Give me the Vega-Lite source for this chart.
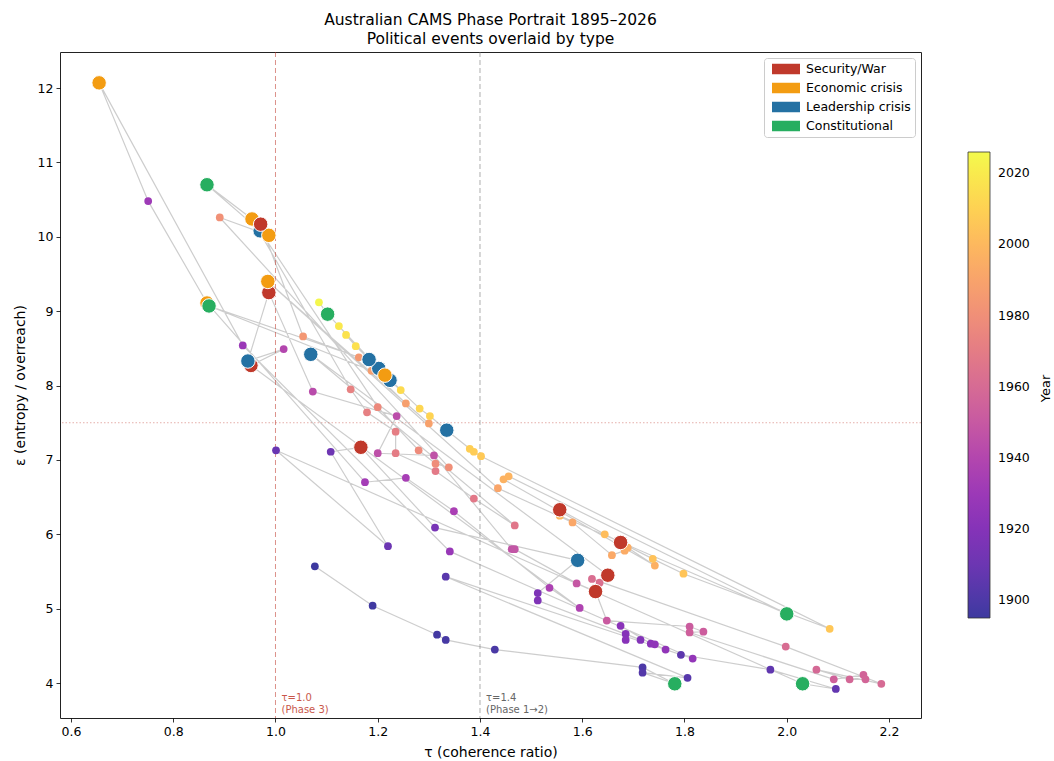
{
  "$schema": "https://vega.github.io/schema/vega-lite/v6.json",
  "autosize": {"type": "none"},
  "padding": {"left": 60, "top": 52, "right": 133, "bottom": 43},
  "width": 861,
  "height": 666,
  "title": {
    "text": ["Australian CAMS Phase Portrait 1895–2026", "Political events overlaid by type"],
    "font": "DejaVu Sans",
    "fontSize": 15.5,
    "fontWeight": "normal",
    "color": "#000000",
    "anchor": "middle",
    "lineHeight": 19,
    "offset": 4
  },
  "config": {
    "font": "DejaVu Sans",
    "view": {"stroke": "#222222", "strokeWidth": 1},
    "axis": {
      "grid": false,
      "domain": false,
      "tickColor": "#000000",
      "tickSize": 4,
      "tickWidth": 0.8,
      "labelFont": "DejaVu Sans",
      "labelFontSize": 12.5,
      "labelColor": "#000000",
      "labelPadding": 3,
      "titleFont": "DejaVu Sans",
      "titleFontSize": 14,
      "titleFontWeight": "normal",
      "titleColor": "#000000"
    }
  },
  "data": {
    "values": [
      {"year": 1895, "tau": 1.077, "eps": 5.57},
      {"year": 1896, "tau": 1.190, "eps": 5.04},
      {"year": 1897, "tau": 1.316, "eps": 4.65},
      {"year": 1898, "tau": 1.333, "eps": 4.58},
      {"year": 1899, "tau": 1.429, "eps": 4.45},
      {"year": 1900, "tau": 1.718, "eps": 4.21},
      {"year": 1901, "tau": 1.781, "eps": 3.99, "type": "Constitutional"},
      {"year": 1902, "tau": 1.718, "eps": 4.14},
      {"year": 1903, "tau": 1.806, "eps": 4.07},
      {"year": 1904, "tau": 1.333, "eps": 5.43},
      {"year": 1905, "tau": 1.793, "eps": 4.38},
      {"year": 1906, "tau": 1.968, "eps": 4.18},
      {"year": 1907, "tau": 2.096, "eps": 3.92},
      {"year": 1908, "tau": 2.031, "eps": 3.99, "type": "Constitutional"},
      {"year": 1909, "tau": 1.001, "eps": 7.13},
      {"year": 1910, "tau": 1.220, "eps": 5.84},
      {"year": 1911, "tau": 1.108, "eps": 7.11},
      {"year": 1914, "tau": 1.167, "eps": 7.17, "type": "Security/War"},
      {"year": 1915, "tau": 1.312, "eps": 6.09},
      {"year": 1916, "tau": 1.591, "eps": 5.65, "type": "Leadership crisis"},
      {"year": 1917, "tau": 1.513, "eps": 5.21},
      {"year": 1918, "tau": 1.513, "eps": 5.11},
      {"year": 1919, "tau": 1.714, "eps": 4.58},
      {"year": 1920, "tau": 1.685, "eps": 4.66},
      {"year": 1921, "tau": 1.685, "eps": 4.58},
      {"year": 1922, "tau": 1.675, "eps": 4.77},
      {"year": 1923, "tau": 1.734, "eps": 4.53},
      {"year": 1924, "tau": 1.742, "eps": 4.52},
      {"year": 1925, "tau": 1.763, "eps": 4.45},
      {"year": 1926, "tau": 1.816, "eps": 4.33},
      {"year": 1928, "tau": 1.341, "eps": 5.77},
      {"year": 1929, "tau": 0.936, "eps": 8.54},
      {"year": 1930, "tau": 0.655, "eps": 12.07, "type": "Economic crisis"},
      {"year": 1931, "tau": 0.751, "eps": 10.48},
      {"year": 1932, "tau": 0.866, "eps": 9.11, "type": "Economic crisis"},
      {"year": 1934, "tau": 1.175, "eps": 6.70},
      {"year": 1935, "tau": 1.255, "eps": 6.76},
      {"year": 1936, "tau": 1.349, "eps": 6.31},
      {"year": 1937, "tau": 1.536, "eps": 5.28},
      {"year": 1938, "tau": 1.595, "eps": 5.01},
      {"year": 1939, "tau": 0.952, "eps": 8.27, "type": "Security/War"},
      {"year": 1940, "tau": 1.016, "eps": 8.49},
      {"year": 1941, "tau": 0.946, "eps": 8.33, "type": "Leadership crisis"},
      {"year": 1942, "tau": 0.987, "eps": 9.25, "type": "Security/War"},
      {"year": 1943, "tau": 1.073, "eps": 7.92},
      {"year": 1944, "tau": 1.237, "eps": 7.59},
      {"year": 1945, "tau": 1.200, "eps": 7.09},
      {"year": 1946, "tau": 1.310, "eps": 7.06},
      {"year": 1947, "tau": 1.462, "eps": 5.80},
      {"year": 1948, "tau": 1.468, "eps": 5.80},
      {"year": 1949, "tau": 1.589, "eps": 5.34},
      {"year": 1950, "tau": 1.626, "eps": 5.23, "type": "Security/War"},
      {"year": 1951, "tau": 1.648, "eps": 4.84},
      {"year": 1952, "tau": 1.810, "eps": 4.76},
      {"year": 1953, "tau": 1.837, "eps": 4.69},
      {"year": 1954, "tau": 1.810, "eps": 4.68},
      {"year": 1955, "tau": 2.092, "eps": 4.05},
      {"year": 1956, "tau": 2.150, "eps": 4.11},
      {"year": 1957, "tau": 2.154, "eps": 4.05},
      {"year": 1958, "tau": 2.123, "eps": 4.05},
      {"year": 1959, "tau": 2.058, "eps": 4.18},
      {"year": 1960, "tau": 2.185, "eps": 3.99},
      {"year": 1961, "tau": 1.998, "eps": 4.49},
      {"year": 1962, "tau": 1.619, "eps": 5.40},
      {"year": 1963, "tau": 1.634, "eps": 5.35},
      {"year": 1965, "tau": 1.650, "eps": 5.45, "type": "Security/War"},
      {"year": 1966, "tau": 1.069, "eps": 8.42, "type": "Leadership crisis"},
      {"year": 1967, "tau": 1.468, "eps": 6.12},
      {"year": 1968, "tau": 1.388, "eps": 6.48},
      {"year": 1969, "tau": 1.313, "eps": 6.85},
      {"year": 1970, "tau": 1.235, "eps": 7.09},
      {"year": 1971, "tau": 1.235, "eps": 7.38},
      {"year": 1972, "tau": 1.179, "eps": 7.64},
      {"year": 1973, "tau": 1.147, "eps": 7.95},
      {"year": 1974, "tau": 0.954, "eps": 10.24, "type": "Economic crisis"},
      {"year": 1975, "tau": 0.866, "eps": 10.70, "type": "Constitutional"},
      {"year": 1976, "tau": 0.970, "eps": 10.08, "type": "Leadership crisis"},
      {"year": 1977, "tau": 1.200, "eps": 7.71},
      {"year": 1978, "tau": 1.280, "eps": 7.13},
      {"year": 1979, "tau": 1.313, "eps": 6.95},
      {"year": 1980, "tau": 1.339, "eps": 6.90},
      {"year": 1981, "tau": 0.891, "eps": 10.26},
      {"year": 1982, "tau": 0.987, "eps": 10.02, "type": "Economic crisis"},
      {"year": 1983, "tau": 0.971, "eps": 10.17, "type": "Security/War"},
      {"year": 1984, "tau": 1.054, "eps": 8.66},
      {"year": 1985, "tau": 1.163, "eps": 8.38},
      {"year": 1986, "tau": 0.870, "eps": 9.07, "type": "Constitutional"},
      {"year": 1987, "tau": 1.188, "eps": 8.20},
      {"year": 1988, "tau": 1.255, "eps": 7.76},
      {"year": 1989, "tau": 1.300, "eps": 7.49},
      {"year": 1990, "tau": 0.985, "eps": 9.40, "type": "Economic crisis"},
      {"year": 1991, "tau": 1.435, "eps": 6.62},
      {"year": 1992, "tau": 1.581, "eps": 6.16},
      {"year": 1993, "tau": 1.658, "eps": 5.72},
      {"year": 1994, "tau": 1.683, "eps": 5.78},
      {"year": 1995, "tau": 1.689, "eps": 5.82},
      {"year": 1996, "tau": 1.742, "eps": 5.58},
      {"year": 1997, "tau": 1.446, "eps": 6.74},
      {"year": 1998, "tau": 1.456, "eps": 6.78},
      {"year": 1999, "tau": 2.000, "eps": 4.93, "type": "Constitutional"},
      {"year": 2000, "tau": 1.556, "eps": 6.25},
      {"year": 2001, "tau": 1.556, "eps": 6.33, "type": "Security/War"},
      {"year": 2002, "tau": 1.644, "eps": 6.00},
      {"year": 2003, "tau": 1.675, "eps": 5.89, "type": "Security/War"},
      {"year": 2004, "tau": 1.738, "eps": 5.67},
      {"year": 2005, "tau": 1.798, "eps": 5.47},
      {"year": 2006, "tau": 2.084, "eps": 4.73},
      {"year": 2007, "tau": 1.402, "eps": 7.05},
      {"year": 2008, "tau": 1.388, "eps": 7.11},
      {"year": 2009, "tau": 1.380, "eps": 7.15},
      {"year": 2010, "tau": 1.335, "eps": 7.40, "type": "Leadership crisis"},
      {"year": 2011, "tau": 1.302, "eps": 7.59},
      {"year": 2012, "tau": 1.282, "eps": 7.69},
      {"year": 2013, "tau": 1.224, "eps": 8.07, "type": "Leadership crisis"},
      {"year": 2014, "tau": 1.245, "eps": 7.94},
      {"year": 2015, "tau": 1.202, "eps": 8.23, "type": "Leadership crisis"},
      {"year": 2016, "tau": 1.157, "eps": 8.53},
      {"year": 2017, "tau": 1.138, "eps": 8.68},
      {"year": 2018, "tau": 1.183, "eps": 8.35, "type": "Leadership crisis"},
      {"year": 2019, "tau": 1.124, "eps": 8.80},
      {"year": 2020, "tau": 1.214, "eps": 8.14, "type": "Economic crisis"},
      {"year": 2023, "tau": 1.102, "eps": 8.96, "type": "Constitutional"},
      {"year": 2025, "tau": 1.085, "eps": 9.12}
    ]
  },
  "layer": [
    {
      "mark": {"type": "line", "color": "#c4c4c4", "strokeWidth": 1.2, "opacity": 0.85},
      "encoding": {
        "x": {"field": "tau", "type": "quantitative", "scale": {"domain": [0.5785, 2.2626], "nice": false, "zero": false},
              "axis": {"title": "τ (coherence ratio)", "values": [0.6, 0.8, 1.0, 1.2, 1.4, 1.6, 1.8, 2.0, 2.2], "format": ".1f", "titlePadding": 8}},
        "y": {"field": "eps", "type": "quantitative", "scale": {"domain": [3.53, 12.485], "nice": false, "zero": false},
              "axis": {"title": "ε (entropy / overreach)", "values": [4, 5, 6, 7, 8, 9, 10, 11, 12], "format": "d", "titlePadding": 10}},
        "order": {"field": "year", "type": "quantitative"}
      }
    },
    {
      "data": {"values": [{}]},
      "mark": {"type": "rule", "color": "#c0392b", "opacity": 0.55, "strokeDash": [5, 3], "strokeWidth": 1},
      "encoding": {"x": {"datum": 1.0}}
    },
    {
      "data": {"values": [{}]},
      "mark": {"type": "rule", "color": "#777777", "opacity": 0.6, "strokeDash": [5, 3], "strokeWidth": 1},
      "encoding": {"x": {"datum": 1.4}}
    },
    {
      "data": {"values": [{}]},
      "mark": {"type": "rule", "color": "#c0392b", "opacity": 0.4, "strokeDash": [1.5, 2], "strokeWidth": 1},
      "encoding": {"y": {"datum": 7.5}}
    },
    {
      "data": {"values": [{}]},
      "mark": {"type": "text", "align": "left", "baseline": "bottom", "dx": 6, "dy": -15, "fontSize": 10, "lineHeight": 12, "color": "#c0392b", "opacity": 0.85, "text": ["τ=1.0", "(Phase 3)"]},
      "encoding": {"x": {"datum": 1.0}, "y": {"datum": 3.53}}
    },
    {
      "data": {"values": [{}]},
      "mark": {"type": "text", "align": "left", "baseline": "bottom", "dx": 6, "dy": -15, "fontSize": 10, "lineHeight": 12, "color": "#666666", "text": ["τ=1.4", "(Phase 1→2)"]},
      "encoding": {"x": {"datum": 1.4}, "y": {"datum": 3.53}}
    },
    {
      "data": {"values": [{}]},
      "mark": {"type": "text", "align": "center", "baseline": "middle", "angle": 270, "fontSize": 13, "color": "#000000", "text": "Year"},
      "encoding": {"x": {"datum": 2.508}, "y": {"datum": 7.96}}
    },
    {
      "mark": {"type": "circle", "size": 60, "opacity": 1},
      "encoding": {
        "x": {"field": "tau", "type": "quantitative"},
        "y": {"field": "eps", "type": "quantitative"},
        "color": {
          "field": "year", "type": "quantitative",
          "scale": {
            "domain": [1895, 1908.1, 1921.2, 1934.3, 1947.4, 1960.5, 1973.6, 1986.7, 1999.8, 2012.9, 2026],
            "range": ["#3d399f", "#6736b1", "#8833b9", "#a53db6", "#c155a6", "#d66c93", "#e78381", "#f59d6f", "#fdb85e", "#fdd851", "#f3fa4d"]
          },
          "legend": {
            "title": null,
            "orient": "none",
            "legendX": 908,
            "legendY": 100,
            "direction": "vertical",
            "gradientLength": 466,
            "gradientThickness": 22,
            "gradientStrokeColor": "#333333",
            "gradientStrokeWidth": 0.8,
            "values": [1900, 1920, 1940, 1960, 1980, 2000, 2020],
            "format": "d",
            "labelFontSize": 12.5,
            "labelColor": "#000000",
            "labelOffset": 8
          }
        }
      }
    },
    {
      "transform": [{"filter": "isValid(datum.type)"}],
      "mark": {"type": "point", "shape": "circle", "filled": true, "size": 210, "opacity": 1, "stroke": "#ffffff", "strokeWidth": 1},
      "encoding": {
        "x": {"field": "tau", "type": "quantitative"},
        "y": {"field": "eps", "type": "quantitative"},
        "fill": {
          "field": "type", "type": "nominal",
          "scale": {"domain": ["Security/War", "Economic crisis", "Leadership crisis", "Constitutional"],
                    "range": ["#c0392b", "#f39c12", "#2471a3", "#27ae60"]},
          "legend": {
            "title": null,
            "orient": "top-right",
            "offset": 6,
            "symbolType": "M-2,-0.75L2,-0.75L2,0.75L-2,0.75Z",
            "symbolSize": 196,
            "symbolStrokeWidth": 0,
            "symbolOpacity": 1,
            "symbolOffset": 11,
            "labelFontSize": 12.5,
            "labelColor": "#000000",
            "labelOffset": 13,
            "rowPadding": 5,
            "fillColor": "#ffffff",
            "strokeColor": "#cccccc",
            "padding": 4,
            "cornerRadius": 3
          }
        }
      }
    }
  ],
  "resolve": {"scale": {"color": "independent", "fill": "independent"}}
}
